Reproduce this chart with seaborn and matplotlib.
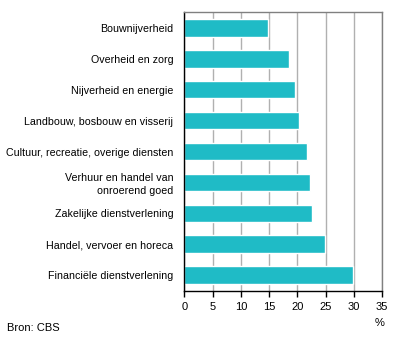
import matplotlib
matplotlib.use("Agg")
import matplotlib.pyplot as plt
import seaborn as sns
import pandas as pd

categories = [
    "Bouwnijverheid",
    "Overheid en zorg",
    "Nijverheid en energie",
    "Landbouw, bosbouw en visserij",
    "Cultuur, recreatie, overige diensten",
    "Verhuur en handel van\nonroerend goed",
    "Zakelijke dienstverlening",
    "Handel, vervoer en horeca",
    "Financiële dienstverlening",
]
values = [14.8, 18.5, 19.6, 20.3, 21.7, 22.3, 22.6, 24.9, 29.9]
xticks = [0, 5, 10, 15, 20, 25, 30, 35]

sns.set_style("white")
plt.rcParams["font.family"] = ["Liberation Sans", "DejaVu Sans"]
plt.rcParams["text.color"] = "black"
plt.rcParams["xtick.color"] = "black"
plt.rcParams["ytick.color"] = "black"

df = pd.DataFrame({"sector": categories, "pct": values})

fig = plt.figure(figsize=(3.96, 3.41), dpi=100)
ax = fig.add_axes([184.3 / 396, 1 - 290.7 / 341, (382 - 184.3) / 396, (290.7 - 12.3) / 341])

sns.barplot(data=df, y="sector", x="pct", color="#1FBBC6", saturation=1,
            width=0.57, ax=ax, orient="h")

ax.set_xlim(0, 35)
ax.set_xticks(xticks)
ax.set_xticklabels([str(t) for t in xticks], fontsize=8)
ax.xaxis.grid(True, color="#B0B0B0", linewidth=1)
ax.yaxis.grid(False)
ax.set_axisbelow(True)
ax.set_xlabel("")
ax.set_ylabel("")
ax.tick_params(axis="y", length=0, pad=8, labelsize=7.7, labelcolor="black")
ax.tick_params(axis="x", length=4, width=1, color="black", direction="out", pad=4,
               bottom=True, labelcolor="black")
for lab in ax.get_yticklabels():
    lab.set_horizontalalignment("right")
    lab.set_multialignment("right")
    lab.set_linespacing(1.3)

for s in ["left", "bottom"]:
    ax.spines[s].set_color("black")
    ax.spines[s].set_linewidth(1)
for s in ["top", "right"]:
    ax.spines[s].set_visible(True)
    ax.spines[s].set_color("#808080")
    ax.spines[s].set_linewidth(1)

fig.text(380 / 396, 1 - 323 / 341, "%", fontsize=8, ha="center", va="center", color="black")
fig.text(7 / 396, 1 - 328 / 341, "Bron: CBS", fontsize=8, ha="left", va="center", color="black")

fig.savefig("out.png", dpi=100)
